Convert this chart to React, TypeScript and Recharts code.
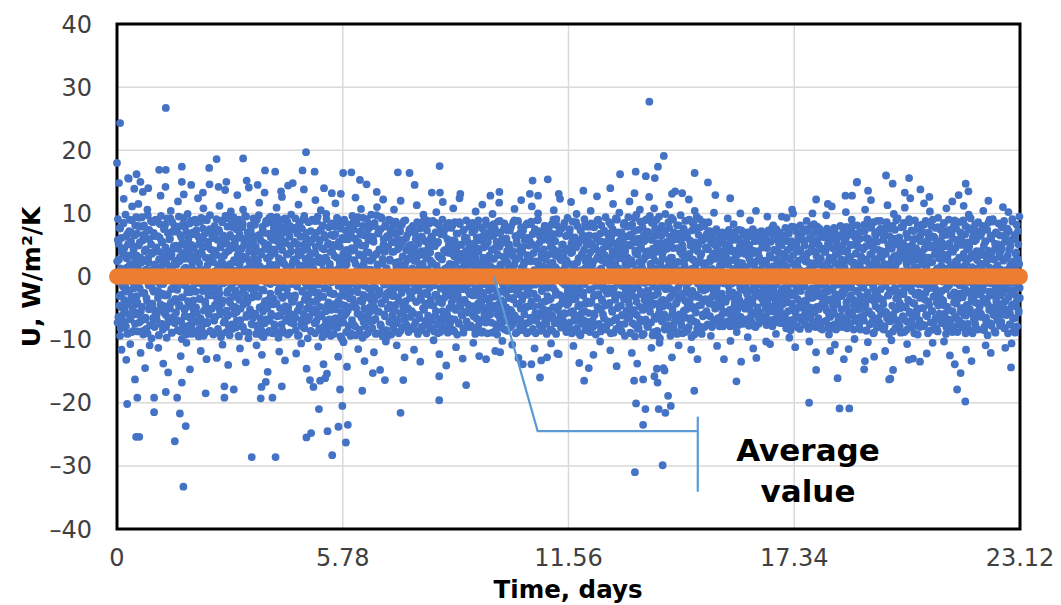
import React from "react";
import {
  ScatterChart,
  Scatter,
  XAxis,
  YAxis,
  CartesianGrid,
  ReferenceArea,
} from "recharts";

const timeSpan = 23.12;
const xTicks = [0, 5.78, 11.56, 17.34, 23.12];
const yTicks = [-40, -30, -20, -10, 0, 10, 20, 30, 40];
const averageU = 0;

const dayBlocks = [
  "2.4 -7.3 9.1 -0.8 5.2 14.8 -4.6 7.7 -9.4 1.3 -2.9 6.1 -11.6 -6.2 3.8 -8.1 0.2 8.4 12.3 -3.7 4.5 -5.5 -1.6 9.8 -7.9 -13.2 2.9 -0.1 6.7 -4.1 15.6 -9.0 3.3 7.2 -2.2 1.8 -10.7 -6.8 5.6 -3.2 8.9 11.1 -5.0 0.7 -8.6 4.1 -1.1 13.9 6.5 -7.5 2.0 -4.4 9.4 -6.0",
  "-3.1 6.8 -8.7 1.5 11.5 4.9 -5.9 9.3 -1.9 3.0 -12.1 -7.0 7.9 -0.4 -4.8 5.7 13.4 -9.2 2.6 8.1 -2.6 0.9 -14.5 -6.5 4.3 -8.3 6.0 -3.9 10.6 9.7 -0.9 2.2 -5.2 7.4 -10.9 -7.7 1.0 -1.4 5.1 -9.8 3.6 -4.3 8.6 -6.6 0.5 -2.4 6.4 -8.0 3.9 -5.6 9.0 -0.2",
  "4.6 -6.9 0.3 8.7 -3.4 -11.3 -9.3 2.7 6.2 -1.2 -5.3 12.8 9.6 -7.6 1.6 -2.7 5.4 -8.4 -13.8 3.2 7.5 -4.7 -0.6 8.2 14.2 -6.1 2.1 -9.7 4.0 -3.0 6.9 -15.2 -0.3 -7.2 5.9 1.2 -5.1 9.2 10.4 -2.0 3.5 -8.9 7.1 -4.0 0.8 -6.4 4.8 -1.5 8.0 -7.4 2.5 -3.6",
  "-5.7 1.9 7.3 -2.1 -8.5 11.9 4.4 9.5 -0.7 -4.5 3.1 6.6 -12.6 -7.1 0.0 -9.9 5.3 -3.3 8.3 -1.3 13.0 2.8 -6.3 7.8 -5.0 1.4 -8.2 -10.5 4.2 -2.5 9.9 -0.5 6.0 -7.8 3.4 -4.2 -14.7 0.6 8.8 -6.7 5.0 -9.1 2.3 -1.8 7.0 -3.8 -5.8 4.7 -0.2 9.0 -8.8",
  "0.9 -4.9 8.5 -7.2 3.7 -1.0 12.4 6.3 -9.5 2.1 -3.5 5.5 -6.6 -11.8 9.3 -0.3 -8.0 4.6 -2.3 7.6 10.8 -5.4 1.1 -9.0 6.8 -4.0 3.0 -1.7 -13.1 8.9 -7.4 0.4 5.1 -3.0 -6.0 2.6 14.6 9.7 -8.6 4.3 -1.4 7.2 -5.1 0.1 -2.8 6.1 -9.2 3.9 -7.0 8.0 -4.5",
  "-6.4 3.6 -0.6 9.1 -12.9 -3.6 5.8 -8.3 1.7 -2.0 7.1 11.2 -5.3 0.5 4.8 -9.6 2.4 -4.3 8.6 -10.8 -1.1 6.5 -7.3 3.3 -0.2 -5.7 13.7 9.6 1.4 -8.8 5.2 -2.6 7.9 -6.2 -14.0 0.0 4.1 -3.8 -9.3 6.6 2.0 10.3 -1.6 8.3 -7.6 4.5 -4.8 1.0 9.4 -5.9 -0.9 6.0",
  "5.3 -2.2 -8.1 0.8 7.5 -5.6 12.9 3.4 -0.1 -9.4 9.0 -3.7 1.9 -11.4 -6.9 6.1 -1.3 4.4 -7.9 2.7 8.4 10.6 -4.4 -0.5 5.9 -8.7 3.1 -2.9 -13.6 9.5 -6.1 1.2 -4.1 7.0 -0.8 -9.8 14.1 4.9 2.2 -5.2 8.1 -1.9 6.7 -7.5 0.3 -3.3 5.4 -6.5 9.2 -2.5 3.8",
  "-1.4 8.2 -6.0 4.0 -9.1 -10.9 2.5 6.4 -3.2 0.6 -7.7 9.7 11.7 -4.9 1.6 -0.4 5.7 -8.4 3.5 -12.4 -2.1 7.3 -5.5 -9.6 0.2 6.9 13.3 -3.9 4.6 -6.8 8.8 -1.0 2.9 -8.9 -15.1 5.0 -4.6 0.9 9.3 -7.0 3.2 -2.7 6.2 -5.9 -0.7 8.5 1.8 -9.0 4.3 -3.5 7.7",
  "3.9 -8.3 7.0 -0.9 -4.2 1.5 10.9 9.4 -6.3 5.6 -2.4 -9.7 2.9 -11.9 8.0 -5.0 0.4 -1.7 6.6 -7.6 12.6 4.2 -3.4 9.0 -0.1 -8.9 2.0 7.8 -13.3 -4.7 5.3 -6.7 1.1 -2.0 8.7 -9.2 14.4 3.6 -5.8 0.0 6.3 -3.1 4.9 -7.3 9.8 1.7 -1.2 -6.0 7.4 -4.0 2.6",
  "-7.5 0.7 5.5 -3.0 9.2 -8.5 -12.2 2.2 -1.6 6.8 -5.4 4.0 11.4 -9.3 1.3 8.3 -4.5 -0.6 3.7 -10.6 -6.9 7.6 -2.3 0.1 -8.0 5.0 13.8 9.6 -3.7 -1.0 2.8 -7.1 6.0 -14.6 -5.1 4.4 -9.8 1.9 8.6 -2.8 -6.4 3.2 0.5 -4.0 7.2 -8.7 5.8 -1.9 9.0 -5.7 2.4",
  "1.2 -5.2 8.8 -2.5 -9.0 12.1 4.7 6.9 -7.0 0.3 -3.6 9.5 -11.1 -1.3 3.0 -8.2 5.6 -4.8 7.4 10.5 -0.4 -6.1 2.1 -9.6 8.1 -3.2 -13.9 4.3 -7.9 0.9 6.2 -1.8 -5.5 9.9 2.7 -15.4 -8.6 -0.2 5.1 -4.1 7.8 -6.8 1.6 -2.6 3.9 -9.4 6.6 -0.8 -7.3 8.4 -4.4",
  "-2.8 6.4 -9.1 3.3 -0.5 7.9 11.6 -6.6 1.0 -4.3 9.3 -8.1 4.8 -12.7 -1.5 5.5 -7.4 2.3 -3.1 8.7 13.1 -5.7 0.6 -9.9 6.1 -2.1 3.6 -10.4 -6.3 9.0 -0.9 -4.6 1.8 7.3 -8.8 4.2 -14.3 -1.1 -5.4 5.9 -7.8 2.9 8.2 -3.5 0.2 -9.4 6.7 -2.4 4.5 -6.9 9.6",
  "4.1 -0.7 -7.6 8.9 2.6 -4.4 6.0 12.5 -9.3 0.8 -2.0 5.2 -5.9 9.4 -11.5 -1.4 3.4 -8.4 7.1 -3.8 1.5 10.7 -6.5 4.9 -0.1 -9.7 8.0 -2.9 2.0 -5.1 -13.4 6.5 -7.9 0.4 3.8 -3.3 9.1 -6.2 1.1 -8.9 5.7 -1.9 7.7 -4.9 -0.3 2.5 -7.1 9.8 -3.9 6.3",
  "-8.2 2.9 5.9 -1.7 -12.0 -4.9 8.5 0.6 -6.7 3.5 -3.0 9.7 11.0 -9.0 1.7 -0.6 6.8 -5.6 4.3 -2.3 -14.8 7.5 -7.8 0.1 -4.1 9.2 2.1 -9.5 12.2 5.1 -1.2 -6.0 3.9 8.1 -3.6 -10.3 -8.5 1.3 6.4 -2.6 -5.0 4.7 -0.2 9.0 -7.2 2.7 -4.5 7.0 -1.0 -9.2 5.5",
  "0.5 -6.1 7.8 -2.7 3.9 10.6 -8.6 5.4 -0.4 -4.5 8.7 1.6 -10.9 -7.4 6.0 -3.3 2.3 -9.0 4.6 -1.6 7.1 -5.8 12.0 0.0 -2.1 8.2 -8.1 3.1 -4.8 5.8 -0.9 -6.9 -12.8 1.9 8.9 -3.9 4.2 -7.7 -1.2 6.6 -5.2 2.8 -8.8 0.9 7.4 -2.5 -6.4 5.0 -0.7 3.5",
  "-3.4 4.4 -8.3 8.0 -0.2 -5.9 -11.6 2.5 6.9 -1.8 -7.2 3.7 -4.0 11.3 8.6 0.7 -9.1 5.2 -2.2 1.4 -6.6 7.6 -13.5 -0.8 -3.7 4.0 -8.5 6.2 2.0 -5.0 9.8 8.9 -1.3 -7.7 0.3 5.6 -4.3 3.0 -9.0 7.3 -2.8 1.1 -6.2 4.7 -0.5 8.4 -8.0 2.6 -3.9 6.0",
  "6.3 -1.1 -7.0 2.2 8.8 -4.6 -10.1 0.0 -8.7 4.9 -2.9 7.0 -5.5 10.2 1.7 -0.6 5.3 -9.0 3.3 -3.5 8.1 -12.3 -6.7 0.8 -1.9 6.7 -7.9 2.9 -4.2 9.0 11.8 -0.3 -5.8 4.1 -8.2 1.2 7.5 -2.4 -6.3 -14.1 3.8 -1.4 5.9 -8.9 0.4 -3.0 8.5 -5.0 2.0 -7.4 4.6",
  "-0.9 7.7 -4.1 1.8 -8.4 5.7 10.8 -2.6 3.2 -6.8 8.6 0.2 -5.3 -11.2 4.5 -1.5 -9.2 6.8 -3.2 2.7 -7.5 0.9 12.4 8.3 -4.8 -0.1 5.0 -6.0 3.6 -2.0 -13.0 7.2 -8.9 1.5 -3.7 6.1 -5.6 -0.7 4.0 8.9 -7.1 2.3 -1.2 -4.4 5.4 -8.0 0.6 7.9 -2.8 3.4",
  "2.9 -7.8 5.0 -1.0 -4.7 8.5 0.7 -10.5 -6.3 3.6 -2.3 7.4 -9.1 10.3 1.5 -0.3 6.2 -5.4 4.4 -8.3 8.9 -3.1 -12.6 -1.7 2.1 -6.9 5.7 0.0 -4.0 7.8 11.4 -8.7 3.0 -2.6 6.6 -5.9 1.1 -0.8 4.8 -7.3 8.2 -3.6 2.5 -9.0 5.4 -1.3 -5.0 7.0 0.5 -4.4",
  "-6.0 1.6 8.0 -3.3 4.2 -8.9 9.9 -0.2 6.5 -5.1 2.8 -1.9 7.6 -11.8 -7.6 0.9 5.5 -2.9 -9.2 3.5 8.7 -4.4 -0.6 11.7 4.7 -6.6 1.9 7.0 -3.8 -8.1 5.9 -10.2 0.3 -1.4 3.1 -5.7 8.4 -7.0 2.3 -0.9 6.0 -4.9 -2.2 4.0 -8.6 7.3 1.2 -3.4 5.1 -6.4",
  "4.5 -2.0 -8.0 7.9 0.6 -5.6 -10.8 3.3 -3.6 8.6 -7.2 1.8 10.7 -0.5 6.4 -9.0 2.6 -4.3 5.2 -1.2 -6.7 8.8 -12.9 0.1 -2.8 4.1 -7.9 6.9 -5.1 12.1 1.4 -0.2 3.9 -8.5 7.3 -3.0 2.2 -6.0 5.8 -1.6 -4.8 0.8 8.2 -7.4 3.4 -2.4 6.1 -8.8 -0.8 4.9",
  "-1.6 5.6 -7.1 2.4 8.3 -4.0 11.1 -0.7 6.7 -8.6 3.7 -2.7 1.0 -11.4 7.5 -5.8 -9.0 4.6 0.4 -3.4 8.9 -6.4 10.0 2.0 -1.1 5.3 -7.7 6.3 -4.6 0.0 -13.3 3.0 -2.1 -8.3 7.1 1.6 -5.2 4.3 -0.4 8.0 -6.9 2.7 -3.9 5.9 -9.1 0.7 -1.8 7.8 -5.5 3.5",
  "7.2 -3.7 0.3 -8.4 4.7 -10.6 -1.4 6.0 -6.2 2.2 -4.9 9.0 10.5 -0.6 -7.4 3.4 5.6 -2.4 -9.1 1.2 8.1 -12.2 -5.3 -0.1 4.0 -6.8 6.8 -2.9 12.3 2.8 -8.0 0.8 7.6 -4.2 -1.0 5.1 -7.0 3.1 -3.2 8.5 -5.9 1.7 -0.9 6.4 -8.8 2.5 -4.5 9.3 -2.0 4.4",
  "-4.1 2.0 7.0 -7.3 0.7 -2.5 11.8 5.3 -9.0 3.9 8.7 -5.5 -11.0 -0.4 1.5 -6.5 6.2 -1.8 -3.5 4.6 9.9 -8.2 8.0 0.0 -4.7 2.9 -7.0 -13.7 5.7 -2.2 -9.3 7.4 1.0 -5.8 3.6 -0.8 6.5 -3.0 -6.9 4.2 9.1 -1.2 -8.5 2.4 -4.3 5.0 -0.3 7.9 -7.6 1.8",
  "1.4 -5.8 6.5 -2.1 -8.8 3.8 10.4 8.4 -4.0 -0.5 5.0 -7.0 2.3 -12.4 -3.1 7.8 -6.1 0.2 4.6 -9.2 -1.4 6.0 12.7 -4.8 3.1 9.0 -2.8 -7.5 1.0 5.6 -10.3 -0.9 -5.2 8.1 2.6 -3.8 -8.1 4.3 -1.6 7.1 -6.6 0.6 3.4 -4.4 9.4 -2.3 -7.8 5.4 -0.1 6.8",
  "-7.1 4.8 -0.6 8.6 -4.2 1.7 -11.7 -9.0 6.1 -2.6 3.2 -5.6 7.5 11.5 0.5 -1.9 -6.9 5.2 -3.4 2.1 9.2 -8.3 -14.2 -0.9 4.4 -5.0 7.0 1.3 -2.9 10.1 -7.6 3.6 6.7 -4.6 0.0 -8.7 5.8 -1.5 2.8 -6.2 8.2 -3.6 0.9 -9.4 4.0 -2.0 6.3 -5.4 1.9 7.9",
  "3.0 -6.6 9.4 -1.3 -4.4 11.9 6.6 -8.9 0.6 5.1 -2.9 -12.1 8.2 -7.4 2.0 -0.2 -5.7 7.2 13.2 -9.5 4.1 -3.3 1.1 9.8 -6.1 -13.8 3.5 -1.7 6.0 -8.2 0.3 -4.8 10.6 8.7 -2.4 4.7 -7.1 1.6 -0.6 7.8 -5.3 2.6 -9.1 5.6 -3.7 -1.0 8.9 -6.8 3.9 -4.0 9.1",
  "-2.2 7.1 -8.0 4.0 0.9 12.6 -5.0 9.6 -3.6 1.9 -7.3 -11.3 5.8 -0.7 -9.3 3.3 -1.6 8.4 10.8 -6.4 2.5 6.5 -4.3 -0.3 9.0 -14.6 -8.6 4.8 -2.7 0.5 -5.9 7.5 -10.5 -9.8 2.1 5.3 -3.9 -1.1 8.0 -7.0 3.7 -4.7 0.0 6.9 -6.0 1.3 -8.4 9.9 -2.0 4.4 -0.9",
  "5.5 -0.8 -7.7 2.6 8.6 -4.6 11.4 -1.9 6.3 -9.4 3.0 -3.1 9.3 -12.8 -5.9 0.4 4.5 -8.1 7.0 -2.5 1.5 13.5 -6.7 5.9 -0.1 -4.1 8.1 -8.8 2.3 -3.5 -10.9 6.8 -1.2 -6.2 3.9 9.7 -7.2 0.8 -2.8 5.0 -9.0 4.3 -0.5 7.6 -5.4 1.8 -3.8 8.8 -6.5 2.9",
  "-5.2 1.0 6.2 -8.5 3.3 -1.0 12.2 9.0 -3.9 -6.8 4.9 0.2 -11.6 -9.6 7.3 -2.3 2.7 -4.8 8.3 -7.1 -0.6 10.4 5.4 1.6 -5.7 -2.9 9.5 -8.3 -13.1 4.0 -0.2 6.6 -3.3 -7.9 2.3 7.8 -1.6 -4.5 3.6 -9.1 5.7 0.6 -6.0 8.6 -2.2 1.4 -8.0 6.0 -3.6 4.6",
  "2.1 -5.5 6.8 -1.4 -7.6 4.3 8.6 0.1 -3.6 7.2 -6.3 2.9 -9.4 -0.8 5.4 -8.0 1.2 -4.4 6.1 -2.3 10.1 3.7 -7.1 -0.3 4.9 -5.0 7.5 -1.8 -11.0 0.8 -6.6 3.2 -3.1 5.9 -7.9 1.7 -0.6 6.5 -4.8 2.5 -2.7 7.0 -5.9 0.4 4.0 -7.4 -1.1 5.1 -3.8 2.0",
  "-4.0 3.0 -7.3 6.3 -0.5 9.2 1.9 -5.8 7.4 -2.4 4.6 -7.9 -10.2 0.2 5.7 -3.2 -1.1 6.9 -6.1 2.6 8.3 -0.1 -4.7 4.1 -7.0 7.1 1.0 -2.9 -8.8 -5.4 3.5 -0.9 6.0 -7.7 2.2 -3.7 4.8 -1.6 -6.4 0.7 7.3 -4.3 1.4 -2.0 5.3 -7.5 3.9 -0.4 6.6 -5.1",
  "5.2 -1.7 -6.8 1.3 7.0 -3.9 -9.6 -0.2 4.4 -7.8 2.8 -5.2 8.9 6.4 -2.2 0.5 -7.2 3.6 -4.2 7.5 -11.4 -0.9 1.8 -6.0 5.6 -3.0 -8.0 10.4 2.4 6.8 -1.3 -4.9 0.0 4.0 -7.5 3.1 -2.6 6.2 -5.7 1.1 -0.7 7.2 -3.5 -6.5 2.0 4.7 -1.9 -7.1 5.0 0.8",
  "-0.6 6.1 -5.0 2.3 -7.7 4.5 9.5 -2.8 0.6 7.3 -4.6 -1.5 3.4 -10.7 -6.9 5.5 -0.1 -3.3 7.7 -7.9 1.6 8.1 -2.1 4.2 -5.6 6.7 0.9 -4.0 -9.1 -7.1 2.7 -1.0 5.8 -6.2 3.8 -3.6 0.3 7.0 -5.3 1.9 -2.5 -7.4 4.9 -0.4 6.4 -4.4 2.1 -6.6 3.0 -1.8",
  "3.4 -6.0 7.7 -2.0 -8.2 9.3 1.1 5.6 -4.1 0.0 -6.9 6.8 -9.7 -1.2 2.7 -8.5 4.6 -3.0 7.9 10.6 -5.3 -0.5 2.0 -7.4 5.2 -2.6 0.6 -11.2 -5.8 7.2 -1.7 3.9 -8.0 -3.6 1.5 6.3 -6.5 -0.8 4.2 -4.6 8.1 -2.3 0.9 -7.0 5.9 -1.4 -5.0 3.0 7.1 -3.9",
  "-1.0 4.9 -7.6 2.4 -4.3 7.5 8.8 0.3 -5.7 3.7 -2.7 -8.3 6.0 -10.3 1.2 -0.4 -6.2 4.0 8.0 -3.4 -1.9 10.0 5.3 -7.9 2.1 -5.0 6.9 0.7 -2.2 -8.0 -12.0 3.3 -4.8 7.9 -0.9 1.9 -6.6 5.0 -3.1 -1.4 7.0 -7.2 2.9 0.1 -4.5 6.4 -8.4 4.4 -2.5 1.4",
  "6.2 -3.3 0.5 -7.2 3.9 -1.6 9.7 -5.4 7.6 -0.2 2.3 -8.1 4.8 -9.2 -3.8 1.3 -6.4 5.7 -2.1 -7.8 11.1 0.9 6.9 -4.6 2.8 -0.7 -5.9 7.3 -10.8 -2.9 3.5 -8.4 0.2 5.3 -4.1 -1.3 6.5 -6.8 1.8 -3.2 4.4 -7.5 8.0 -0.6 2.0 -5.2 4.1 -2.4 -8.0 7.0",
  "-2.7 1.8 -6.8 5.5 -0.3 7.8 10.2 -4.9 2.6 -8.2 4.1 -1.1 -5.9 -11.5 6.6 0.4 -3.5 3.1 -7.4 7.4 -1.8 9.0 0.9 -6.1 5.0 -3.7 -8.4 2.2 -9.9 6.2 -0.6 -4.4 3.6 -7.0 1.0 8.1 -2.4 -5.2 4.7 -0.9 -7.8 6.0 1.6 -3.1 -6.4 3.2 -1.5 7.2 -4.7 0.2",
  "4.3 -1.8 -7.0 8.2 1.0 10.6 -4.5 6.1 -8.6 2.7 -2.9 9.0 -10.4 -5.7 0.3 -0.9 5.0 -7.6 3.5 -3.6 12.1 7.7 -6.1 1.6 -1.2 4.6 -9.0 8.6 -12.7 -4.0 0.0 -2.4 6.5 -6.8 2.2 -8.1 5.5 -0.5 -3.2 7.2 -5.1 3.0 -7.3 1.3 8.8 -2.0 -5.9 4.0 -0.2 6.8",
  "-3.8 5.8 -8.4 2.0 7.1 -1.5 -11.8 -5.6 3.6 -0.1 8.6 -6.6 11.3 1.1 -3.0 4.9 -9.1 6.4 -2.2 0.6 -7.1 5.4 -10.1 2.8 -4.6 8.0 -0.8 -6.0 9.9 3.2 -1.9 7.4 -8.2 1.7 -3.5 5.1 -5.2 0.2 9.2 -7.5 2.4 -2.6 6.2 -4.2 -0.6 4.2 -8.9 7.8 -1.2 3.9",
  "0.8 -6.3 5.3 -2.8 8.5 -8.8 10.9 3.3 -0.4 -4.9 6.8 1.9 -10.7 -7.2 4.7 -1.7 -3.9 9.1 -5.8 2.4 12.4 0.0 -8.0 7.3 -2.3 3.8 -6.5 -13.0 5.9 -0.7 -4.3 1.5 8.9 -7.8 2.8 -1.0 6.0 -5.3 4.1 -9.2 0.5 -2.5 7.6 -6.9 3.1 -3.4 5.6 -0.2 -7.5 8.2",
  "-5.0 2.7 -1.3 7.0 -7.9 11.6 4.4 0.2 -3.7 8.8 -6.1 1.4 -12.2 -2.0 5.7 -9.0 3.0 6.6 -4.5 -0.6 10.3 2.2 -7.3 8.1 -1.8 4.9 -5.5 -10.5 0.7 -8.4 6.3 -3.1 3.5 -0.9 -6.6 7.7 1.0 -4.1 5.2 -2.6 -8.7 9.3 -0.2 2.9 -5.9 4.2 -3.3 7.4 -7.0 1.7",
  "3.7 -7.4 6.4 -0.8 -3.8 8.3 -10.3 1.3 -5.9 4.8 -2.0 -9.1 10.8 7.2 0.4 -4.8 2.6 -6.8 9.0 -1.4 5.3 -12.5 -8.3 1.8 -3.0 6.8 -0.1 11.9 -5.5 3.9 -7.9 8.0 -2.5 0.9 -6.3 4.5 -1.0 7.6 -4.3 2.3 -8.8 5.8 -3.5 -0.6 8.6 -7.0 1.5 -2.7 6.0 -5.0",
  "-0.5 5.0 -8.1 3.0 -3.3 8.9 11.2 -6.0 1.6 -1.9 6.7 -9.0 -11.6 2.4 -4.5 4.3 0.3 -7.5 7.7 9.8 -2.6 2.9 -5.2 -0.9 9.2 -8.6 -13.4 3.6 -4.0 6.1 -1.2 0.8 -6.7 5.6 -3.0 8.2 -7.7 1.2 -2.1 4.0 -5.6 7.1 0.0 -8.4 3.3 -1.5 6.4 -4.8 2.0 -6.3",
  "6.6 -2.4 -6.4 1.7 8.0 -4.1 10.4 3.4 -8.5 0.1 -1.1 5.5 -10.9 -7.0 2.2 -3.6 7.4 -9.3 4.1 12.0 -0.4 -5.3 9.0 1.1 -2.9 -12.1 6.0 -7.8 3.8 -0.7 -4.9 8.7 -6.1 2.7 0.5 -2.2 5.2 -8.9 7.0 -3.9 1.4 -6.9 4.6 -1.6 -5.7 8.4 -0.2 3.1 -7.3 6.5",
  "-3.0 4.1 -7.2 7.8 0.6 -5.0 11.0 2.5 -1.7 8.8 -8.2 5.5 -11.3 -3.9 1.0 -6.1 6.9 -0.4 3.3 -9.0 10.2 7.2 -2.2 0.2 -5.8 4.8 -7.6 2.0 -10.6 -1.0 9.1 -4.4 5.9 -8.7 1.5 -2.8 6.6 -6.6 3.6 -0.8 -4.7 8.2 -7.9 2.8 -1.3 5.1 -5.4 0.7 9.5 -3.4",
];

// more readings inside the dense band, same half-day blocks
const dayBlocksCore = [
  "-0.3 5.8 -6.4 2.7 -3.1 7.6 -8.2 0.9 4.2 -5.0 -1.6 8.5 -7.1 3.5 -2.4 6.3 -4.5 1.4 -9.1 5.1 -0.7 -6.0 9.0 2.0 -3.8 7.0 -8.8 0.2 4.8 -1.9 -5.6 3.0 8.1 -4.0 1.7",
  "3.3 -4.1 8.0 -1.0 -7.3 5.4 0.4 -5.5 2.2 9.4 -2.6 -8.6 6.6 -0.1 4.0 -6.8 1.1 -3.4 7.2 -9.0 2.9 -1.4 5.9 -4.8 0.6 8.8 -7.7 3.8 -2.0 -5.1 6.9 -0.8 1.9 -6.1 4.5",
  "-6.2 1.0 6.4 -2.3 -9.3 3.9 8.3 -4.4 0.0 5.6 -7.5 2.5 -1.2 -5.7 7.7 -3.0 4.6 -8.0 0.7 9.2 -2.8 -6.6 3.1 -0.5 6.0 -4.2 1.6 -8.9 8.6 -1.8 4.4 -6.9 2.1 -3.6 7.1",
  "4.9 -2.0 -6.9 0.5 7.9 -4.7 2.4 -8.7 -0.9 6.2 -3.3 3.7 -7.8 9.3 1.2 -5.3 5.0 -1.5 -9.2 7.0 0.1 -3.9 2.8 -6.4 8.4 -2.5 4.3 -8.0 1.5 -4.9 6.7 -0.4 -7.0 3.2 -1.1",
  "-2.4 7.3 -5.8 2.9 -0.6 -8.4 5.2 1.0 -3.6 8.7 -6.9 3.6 -1.3 6.0 -9.4 0.4 4.7 -4.3 9.1 -2.1 -7.2 1.8 5.5 -5.1 -0.2 7.5 -8.7 3.0 -3.0 6.5 -1.7 2.3 -6.5 4.1 0.8",
  "6.8 -0.9 -4.6 3.4 -8.8 1.5 7.4 -2.7 -6.0 4.6 0.3 -9.1 8.9 -3.8 2.0 -1.0 5.5 -7.0 -0.3 3.8 -5.4 9.2 -2.3 1.0 -7.9 6.3 -4.1 0.6 -1.7 4.9 -8.3 7.8 -3.2 2.6 -5.8",
  "-4.8 2.3 8.6 -7.0 0.0 4.4 -2.8 -9.5 6.7 1.3 -5.1 3.3 -0.6 7.8 -8.0 -2.0 5.0 -4.0 9.6 0.8 -6.4 2.9 -1.6 6.1 -8.9 4.0 -3.4 0.4 7.3 -5.7 1.9 -7.6 5.6 -1.1 3.0",
  "1.6 -5.9 4.7 -1.8 9.0 -8.1 2.6 -3.0 6.6 -0.4 -6.6 3.9 -9.3 0.9 7.9 -4.6 -2.2 5.3 -7.4 1.2 8.4 -0.8 -5.0 4.3 -3.7 6.8 -8.6 2.0 -1.2 9.5 -6.2 0.3 3.6 -4.4 5.8",
  "-7.6 3.8 -0.2 6.0 -4.3 1.9 -9.0 8.3 -2.0 4.8 -6.2 0.6 -3.1 7.1 -8.4 2.5 5.6 -1.4 -5.5 9.2 0.0 -7.0 3.5 -2.9 6.9 -4.9 1.3 -8.9 8.0 -0.7 4.0 -3.8 -6.5 2.2 7.5",
  "2.7 -3.5 7.7 -6.5 0.4 -1.3 5.1 -9.4 3.3 8.2 -4.8 -0.5 6.3 -7.7 1.7 -2.4 9.0 -5.9 4.2 -8.2 0.8 -3.3 6.9 -1.6 2.4 -6.9 8.7 -4.2 -0.1 5.4 -8.6 3.7 -2.1 1.3 -5.2",
  "-1.5 6.1 -7.4 3.7 -4.0 0.1 8.8 -5.9 2.3 -2.6 5.8 -8.5 -0.3 7.4 -6.3 4.5 -3.2 1.0 -9.3 6.6 -1.9 3.0 -7.0 9.1 -4.6 0.6 5.3 -2.1 -8.0 2.0 8.0 -5.3 -0.9 4.0 -6.8",
  "5.0 -2.7 0.9 -8.0 6.7 -5.2 3.0 -0.7 9.1 -3.9 -6.8 1.5 4.7 -9.5 7.6 -1.4 -4.5 2.7 -7.3 5.9 -0.1 8.6 -3.1 -5.9 1.9 6.4 -8.6 3.9 -2.0 0.3 7.2 -4.8 -9.0 4.2 -1.0",
  "-3.6 7.5 -1.1 4.3 -7.9 2.0 -5.0 8.4 0.5 -2.5 5.4 -8.9 3.5 -0.8 6.6 -6.1 1.4 -4.0 9.3 -7.2 2.8 -1.5 4.9 -9.2 0.0 7.0 -3.3 -6.4 3.8 -0.4 8.3 -5.6 1.1 -2.8 6.0",
  "0.6 -7.0 5.5 -3.8 8.0 -1.8 -9.1 3.6 -5.5 1.9 6.9 -2.9 -0.5 4.1 -7.6 9.4 -4.3 0.2 2.8 -8.5 5.9 -1.3 -6.3 7.9 -3.0 1.3 -9.5 4.6 -0.9 6.2 -5.0 2.5 -2.1 8.8 -6.9",
  "3.9 -3.1 -8.0 6.8 0.1 -5.4 2.2 -1.7 8.3 -6.8 4.3 -0.4 -3.9 1.4 7.3 -8.6 5.2 -2.6 -0.1 3.2 -6.0 8.8 -4.4 1.0 -7.5 6.1 -1.9 2.6 -5.0 4.8 -8.3 0.5 -3.3 7.6 -1.0",
  "-5.5 1.3 7.1 -2.3 -7.8 4.6 -0.6 5.9 -4.0 2.4 -8.7 8.5 -1.4 -6.1 3.4 0.2 -3.2 6.3 -8.0 1.8 -0.9 7.8 -5.3 4.0 -2.6 -7.0 2.9 8.9 -4.5 0.7 5.2 -6.7 -1.8 3.8 -3.7",
  "2.0 -4.5 6.0 -8.3 0.7 -1.4 4.8 -6.2 8.5 -2.9 1.1 -7.6 5.5 -0.3 -4.0 3.0 -8.8 7.1 -1.8 2.7 -5.5 0.2 6.6 -3.4 -7.0 4.2 -0.9 8.0 -6.0 1.5 -2.3 5.0 -8.0 3.7 -4.9",
  "-6.7 4.0 -1.6 8.1 -3.6 0.8 -8.7 5.6 2.0 -5.0 6.8 -0.2 -2.5 3.6 -7.3 8.6 -4.2 1.2 -1.0 5.1 -6.2 2.4 -8.2 7.4 -0.6 -3.9 3.2 -5.7 6.1 1.7 -2.2 -7.8 4.4 0.0 -4.8",
  "4.1 -0.9 -5.9 7.0 -3.0 1.8 -8.2 5.3 -1.9 2.9 -6.6 8.4 0.3 -4.3 3.9 -7.5 6.2 -0.6 -2.8 1.0 -8.9 7.6 -4.9 4.6 -1.2 -6.4 2.2 8.9 -3.5 0.6 5.7 -7.1 -2.2 3.3 -5.3",
  "-2.1 6.4 -7.3 2.8 0.0 -4.6 8.3 -1.5 4.5 -8.6 1.2 -3.2 6.9 -6.0 3.4 -0.3 -5.3 8.8 -2.4 1.6 -7.8 5.3 -1.0 -4.1 7.5 0.5 -8.4 3.1 -2.7 6.0 -5.7 2.2 -0.7 4.8 -6.9",
  "7.3 -5.3 1.5 -1.2 -7.7 4.0 -3.4 0.3 8.9 -6.2 2.6 -2.2 5.6 -8.8 -0.5 6.5 -4.4 3.1 -1.7 -6.9 7.8 0.9 -3.7 4.7 -8.1 1.9 -0.2 6.1 -5.0 2.4 -9.0 8.4 -2.9 0.6 -4.7",
  "-0.4 3.2 -6.5 8.7 -2.7 5.1 -8.3 0.8 -4.7 6.9 -1.3 2.4 -7.0 4.4 -3.5 9.0 -5.8 1.1 -0.9 7.2 -8.6 3.5 -2.3 5.8 -6.2 0.2 -4.0 8.0 -1.6 2.9 -7.5 6.3 -3.1 1.4 -5.4",
  "5.7 -6.6 2.0 -3.5 8.2 -0.8 -8.6 4.4 -1.9 6.7 -5.0 1.5 -2.9 9.1 -7.2 3.2 0.3 -4.7 7.1 -0.2 -6.1 2.6 -8.1 5.0 -3.4 1.0 7.9 -5.8 -1.3 4.1 -7.8 0.6 6.5 -2.4 -4.2",
  "-3.0 0.5 7.5 -5.7 3.7 -1.7 -8.4 6.0 1.9 -3.6 4.9 -7.0 -0.4 8.6 -2.8 2.2 -6.2 5.2 -9.0 0.9 -4.5 7.3 -1.1 3.4 -7.5 5.9 -2.5 0.0 -5.5 8.3 1.4 -3.9 6.3 -8.3 2.8",
  "3.0 -7.2 5.4 -0.4 -4.2 7.9 -2.0 1.8 -8.0 4.3 -5.9 0.7 6.4 -3.0 -7.7 2.8 8.9 -1.5 -5.2 3.9 -0.6 6.8 -8.7 1.3 -3.6 5.5 -6.0 -1.9 7.3 0.1 -4.6 2.2 -8.4 4.9 -2.7",
  "-4.4 5.9 -1.9 2.6 -7.3 8.2 0.3 -5.3 4.0 -2.3 -8.9 6.9 1.6 -3.7 3.3 -6.6 9.0 -0.8 -4.8 0.9 5.6 -8.2 2.9 -1.4 7.0 -6.1 4.6 -3.1 -0.2 8.5 -7.5 1.9 -2.6 5.0 -5.7",
  "1.8 -3.8 8.0 -6.4 4.9 -0.6 -9.0 2.6 6.2 -2.1 -5.3 0.7 9.3 -7.7 3.7 -1.5 -4.0 5.4 -8.3 7.4 -0.1 2.3 -6.8 4.4 -2.8 8.7 -9.3 1.1 -4.9 6.6 -1.0 3.1 -7.2 5.9 -3.3",
  "-7.9 3.4 -2.5 6.9 0.5 -5.6 2.0 -1.0 8.5 -4.5 4.4 -8.8 1.3 -3.0 7.6 -6.7 0.0 5.3 -2.0 -9.4 3.9 9.5 -5.0 1.7 -1.6 6.4 -7.1 2.9 -3.7 4.8 -0.5 -8.2 7.2 -4.0 0.9",
  "4.4 -1.2 -6.5 1.6 7.7 -3.4 -8.5 5.3 -0.2 3.0 -5.2 9.0 -2.2 -7.3 2.2 6.6 -4.3 0.5 -9.1 4.5 -1.8 8.1 -6.0 1.0 -3.1 5.8 -7.8 3.5 -0.8 7.1 -5.5 2.7 -2.6 -8.8 6.2",
  "-1.8 6.9 -4.4 0.4 -8.0 3.6 5.7 -2.8 -6.6 1.2 8.6 -0.6 -5.1 4.3 -9.2 2.4 -3.2 7.5 -7.3 0.8 -1.1 5.0 -4.6 9.1 -8.6 3.3 -2.0 6.1 -0.3 -6.3 2.1 -3.9 8.0 -5.9 1.6",
  "-2.0 4.4 -6.1 1.1 -0.5 6.4 -4.3 2.4 -7.7 5.3 -1.6 -3.2 3.5 -6.9 7.1 0.3 -5.1 2.8 -2.6 -7.2 4.7 0.9 -4.0 6.0 -1.0 3.9 -6.4 1.6 -3.6 5.5 -7.9 0.0 2.2 -5.6 4.2",
  "3.3 -3.5 0.6 -7.1 5.1 -1.5 2.6 -5.3 6.9 -0.3 -6.6 4.0 -2.5 1.2 -7.8 6.2 -4.1 3.0 -0.9 -5.8 5.8 1.7 -3.0 7.4 -6.9 0.4 -1.9 4.5 -4.7 2.1 -7.4 6.6 -0.6 3.6 -2.2",
  "-5.0 1.5 6.0 -2.8 -7.4 3.3 -0.8 5.0 -4.5 2.0 -6.2 7.2 0.2 -3.6 4.1 -1.4 -7.9 6.3 -2.0 1.0 -5.5 3.8 -0.4 7.0 -6.6 2.6 -3.2 5.5 -1.1 -7.0 4.6 0.8 -4.2 6.7 -2.4",
  "2.5 -6.3 4.7 -0.9 -3.8 7.0 -5.6 1.3 -1.8 5.6 -7.6 3.0 -0.1 -4.8 6.6 -2.9 0.9 -6.8 4.2 -1.3 7.5 -5.1 2.3 -3.4 -7.3 5.1 -0.6 1.8 -4.0 6.0 -2.0 3.6 -6.0 0.5 -3.0",
  "-3.5 6.5 -7.5 1.6 -0.2 4.2 -5.5 7.4 -2.4 2.9 -8.1 0.4 5.6 -4.3 -1.1 3.4 -6.8 7.8 -3.0 1.0 -7.9 5.0 -0.7 -5.0 2.5 6.0 -2.2 -8.3 4.0 0.0 -4.6 6.9 -1.5 3.1 -6.2",
  "5.4 -1.6 -6.7 3.0 -3.7 0.9 7.2 -8.0 2.2 -0.5 -4.9 6.1 -2.1 4.6 -7.1 1.4 -3.3 8.3 -5.7 0.3 3.9 -1.9 -7.7 5.8 -0.9 2.6 -5.2 7.6 -2.7 -8.2 4.3 -0.3 1.8 -4.1 6.4",
  "-0.8 3.9 -4.8 7.1 -7.0 1.9 -2.4 5.2 -0.1 -6.0 3.0 -8.3 6.6 -3.6 0.6 4.5 -1.7 -5.4 7.7 -7.6 2.1 -2.8 5.9 0.1 -4.4 3.6 -8.0 1.2 -0.6 6.3 -6.3 2.7 -3.1 4.9 -1.3",
  "4.0 -7.3 1.4 -2.1 6.0 -4.1 0.0 7.8 -6.3 3.2 -1.0 -8.0 5.0 -3.0 2.3 -5.6 8.0 -0.8 -4.6 1.6 6.8 -7.0 3.7 -2.3 -0.4 5.7 -6.6 0.8 -3.8 7.1 -8.4 2.6 -1.5 4.5 -5.0",
  "-6.2 2.5 -1.0 7.3 -4.0 4.8 -8.5 0.7 -2.5 6.0 -5.5 1.9 8.4 -3.4 -0.3 3.6 -7.2 5.5 -1.7 -8.9 2.7 6.8 -4.7 0.1 -2.8 8.8 -6.6 4.2 -0.8 1.3 -5.2 7.6 -3.6 3.0 -7.8",
  "1.2 -4.4 6.5 -8.0 3.9 -1.3 -5.7 8.2 0.3 -3.0 5.1 -7.1 2.0 -0.5 7.6 -6.3 4.4 -2.4 -8.7 1.6 6.0 -4.9 0.8 -1.9 8.9 -6.9 3.4 -3.4 5.9 -0.2 -7.9 2.9 -5.0 4.7 -1.1",
  "-4.7 7.9 -2.3 0.5 -6.9 4.1 -0.7 2.3 -8.4 6.2 -3.7 1.0 8.6 -5.6 3.1 -1.6 -7.4 5.0 0.0 -4.2 7.2 -9.0 2.6 -2.9 4.5 -6.0 1.4 8.0 -1.2 -5.1 3.6 -8.0 6.5 -0.4 2.0",
  "3.5 -0.4 -5.0 8.2 -7.7 1.8 -2.6 5.2 -0.9 -6.3 3.0 -4.0 7.0 -8.6 0.6 4.6 -1.5 -5.4 2.3 9.0 -3.2 -7.3 6.1 0.2 -2.0 4.0 -8.2 1.3 7.8 -4.6 -0.6 5.6 -6.6 2.8 -3.6",
  "-2.3 5.3 -6.3 1.0 8.5 -4.6 2.8 -0.2 -8.0 6.6 -1.7 3.5 -5.3 0.5 7.4 -7.1 -3.0 4.3 -0.9 -8.8 6.0 1.7 -4.1 8.9 -2.6 2.4 -6.6 0.0 5.0 -3.5 -7.6 3.0 -1.4 7.0 -5.6",
  "6.1 -3.2 0.4 -7.5 3.6 -1.0 -4.9 8.0 -6.2 2.2 -2.3 5.4 -8.3 0.9 4.7 -0.6 -5.8 7.4 -3.6 1.5 -9.0 6.4 -1.8 3.1 -7.0 0.1 5.8 -4.2 2.6 -2.8 8.6 -6.0 1.1 -0.3 4.0",
  "-5.9 2.0 7.1 -1.9 -3.5 4.9 -8.0 0.6 5.6 -6.5 3.0 -0.5 -4.4 8.5 -2.4 1.4 -7.4 6.5 -1.1 2.8 -5.5 9.1 -3.0 0.3 -8.6 4.4 -2.0 6.8 -6.2 1.8 -0.8 5.1 -4.6 3.5 -7.8",
  "1.1 -6.0 4.5 -2.6 8.0 -4.2 0.3 -8.2 6.3 -1.6 2.9 -5.3 7.6 -0.1 -3.3 4.2 -7.6 1.7 5.7 -4.8 -1.0 8.7 -6.6 2.4 -2.2 6.0 -8.9 0.9 3.8 -3.8 -0.5 7.2 -5.7 2.0 -1.8",
];

// isolated readings far from the cloud: [day, U]
const outliers: [number, number][] = [
  [0.08, 24.3], [1.25, 26.7], [4.84, 19.7], [0.0, 18.0], [2.55, 18.6], [3.23, 18.7],
  [2.36, 17.2], [1.66, 17.4], [1.08, 16.9], [1.25, 16.9], [3.79, 16.8], [4.05, 16.6],
  [4.75, 16.8], [5.06, 16.6], [5.79, 16.4], [6.0, 16.5], [3.32, 15.2], [1.66, 15.0],
  [0.3, 15.5], [0.5, 16.2], [0.6, 15.0], [0.8, 14.0], [1.9, 14.5], [2.2, 13.3],
  [2.6, 14.2], [2.8, 15.0], [3.6, 14.5], [4.2, 13.5], [4.5, 14.8], [5.3, 14.0], [5.5, 13.2],
  [7.19, 16.5], [7.49, 16.4], [7.62, 14.5], [6.22, 15.3], [6.39, 14.6], [6.65, 13.4],
  [8.26, 17.5], [8.79, 13.1], [9.56, 12.8], [9.79, 13.4], [10.64, 15.2], [11.03, 15.4],
  [10.57, 13.1], [10.78, 12.8], [11.31, 13.1], [8.06, 13.3], [8.27, 13.3], [11.94, 13.6],
  [13.63, 27.7], [14.0, 19.1], [13.85, 17.4], [13.77, 15.6], [13.54, 15.9], [13.28, 16.6],
  [12.88, 16.2], [12.63, 14.0], [14.79, 16.4], [15.13, 14.9], [15.32, 12.9], [14.21, 13.1],
  [14.47, 13.2], [15.7, 12.4], [15.96, 10.0], [17.9, 12.2], [18.2, 11.5], [18.65, 12.8],
  [18.82, 12.8], [18.95, 15.0], [17.31, 10.0], [17.02, 9.5], [19.69, 16.0], [20.28, 15.6],
  [19.86, 14.7], [20.17, 13.3], [20.57, 13.8], [20.8, 12.6], [21.73, 14.7], [21.8, 13.5],
  [21.55, 12.9], [19.23, 13.6], [18.94, 14.9],
  [0.26, -20.2], [0.49, -25.4], [0.57, -25.4], [0.46, -16.3], [0.52, -19.2], [0.95, -19.2],
  [0.95, -21.5], [1.25, -18.3], [1.48, -26.1], [1.54, -19.2], [1.61, -21.7], [1.66, -16.8],
  [1.76, -23.7], [1.7, -33.3], [2.27, -18.5], [2.75, -17.4], [2.75, -19.2], [2.99, -17.9],
  [3.45, -28.6], [4.06, -28.6], [3.68, -19.3], [3.98, -19.2], [3.7, -17.5], [3.81, -16.7],
  [4.22, -17.4], [4.85, -25.5], [4.97, -24.8], [5.17, -21.0], [5.39, -24.5], [5.51, -28.3],
  [5.67, -23.8], [5.91, -23.5], [5.77, -20.5], [5.86, -26.3], [5.71, -17.9], [4.94, -16.4],
  [5.03, -17.5], [5.2, -16.5], [5.33, -16.1], [6.28, -18.1], [6.55, -15.3], [6.86, -16.4],
  [7.26, -21.6], [7.33, -16.4], [8.25, -19.6], [8.25, -15.8], [8.94, -17.2], [9.45, -13.1],
  [9.81, -12.0], [10.39, -13.9], [10.61, -13.9], [10.83, -16.0], [11.01, -12.8], [11.31, -12.3],
  [11.96, -16.5], [12.08, -14.5], [13.24, -16.5], [13.29, -20.1], [13.53, -21.0], [13.47, -23.5],
  [13.87, -21.0], [14.04, -21.6], [14.18, -20.5], [14.11, -18.9], [13.99, -14.5], [13.76, -15.8],
  [13.47, -16.3], [14.78, -18.1], [13.26, -31.0], [13.97, -29.9], [13.84, -16.8], [14.02, -14.9],
  [15.86, -16.6], [15.54, -13.1], [15.98, -13.5], [16.37, -12.9], [16.62, -10.3], [17.72, -20.0],
  [17.9, -14.8], [18.45, -16.1], [18.5, -20.9], [18.75, -20.9], [18.26, -11.8], [18.61, -13.1],
  [19.13, -14.7], [19.15, -13.4], [19.77, -16.3], [19.87, -14.8], [20.27, -13.2], [20.56, -13.5],
  [21.51, -17.9], [21.72, -19.8], [21.6, -15.3], [21.45, -13.9], [22.89, -14.4], [19.8, -16.2],
];

// "Average value" callout, in data units
const calloutPath = [
  { t: 9.65, u: averageU },
  { t: 10.77, u: -24.5 },
  { t: 14.87, u: -24.5 },
];
const calloutBar = [
  { t: 14.87, u: -22.2 },
  { t: 14.87, u: -34.1 },
];

const fromBlocks = (rows: string[]) => {
  const len = timeSpan / rows.length;
  return rows.flatMap((row, b) => {
    const vals = row.trim().split(/\s+/).map(Number);
    return vals.map((u, j) => ({ t: (b + (j + 0.5) / vals.length) * len, u }));
  });
};

const readings = [
  ...fromBlocks(dayBlocks),
  ...fromBlocks(dayBlocksCore),
  ...outliers.map(([t, u]) => ({ t, u })),
];

const averageLine = [
  { t: 0, u: averageU },
  { t: timeSpan, u: averageU },
];

const tickStyle = { fill: "#404040", fontSize: 24, fontFamily: "DejaVu Sans" };
const fmtY = (v: number) => (v < 0 ? "\u2013" + Math.abs(v) : String(v));
const fmtX = (v: number) => String(v);

const Dot = (p: any) => <circle cx={p.cx} cy={p.cy} r={3.9} fill="#4472C4" />;
const NoShape = () => <g />;

export default function App() {
  return (
    <div
      style={{
        position: "absolute",
        left: 0,
        top: 0,
        width: 1061,
        height: 605,
        background: "#fff",
      }}
    >
      <ScatterChart
        width={1061}
        height={605}
        margin={{ top: 24, right: 41, bottom: 0, left: 0 }}
      >
        <CartesianGrid stroke="#d9d9d9" strokeWidth={1.5} />
        <XAxis
          type="number"
          dataKey="t"
          domain={[0, timeSpan]}
          ticks={xTicks}
          interval={0}
          tickFormatter={fmtX}
          axisLine={false}
          tickLine={false}
          tickSize={0}
          tickMargin={20}
          tick={tickStyle}
          height={76}
        />
        <YAxis
          type="number"
          dataKey="u"
          domain={[-40, 40]}
          ticks={yTicks}
          interval={0}
          tickFormatter={fmtY}
          axisLine={false}
          tickLine={false}
          tickSize={0}
          tickMargin={25}
          tick={tickStyle}
          width={117}
        />
        <Scatter data={readings} shape={Dot} isAnimationActive={false} />
        <Scatter
          data={averageLine}
          shape={NoShape}
          line={{ stroke: "#ED7D31", strokeWidth: 16, strokeLinecap: "round" }}
          isAnimationActive={false}
        />
        <Scatter
          data={calloutPath}
          shape={NoShape}
          line={{ stroke: "#5B9BD5", strokeWidth: 2.2 }}
          isAnimationActive={false}
        />
        <Scatter
          data={calloutBar}
          shape={NoShape}
          line={{ stroke: "#5B9BD5", strokeWidth: 2.2 }}
          isAnimationActive={false}
        />
        <ReferenceArea
          x1={0}
          x2={timeSpan}
          y1={-40}
          y2={40}
          fill="none"
          fillOpacity={0}
          stroke="#000"
          strokeWidth={3}
          ifOverflow="visible"
        />
      </ScatterChart>
      <svg
        width={1061}
        height={605}
        style={{ position: "absolute", left: 0, top: 0, pointerEvents: "none" }}
      >
        <g fontFamily="DejaVu Sans" fontWeight="bold" fill="#000">
          <text x={568} y={598} fontSize={24.5} textAnchor="middle">
            Time, days
          </text>
          <text
            transform="translate(40,277) rotate(-90)"
            fontSize={25}
            textAnchor="middle"
          >
            U, W/m²/K
          </text>
          <text x={808} y={461} fontSize={31} textAnchor="middle">
            Average
          </text>
          <text x={808} y={502} fontSize={31} textAnchor="middle">
            value
          </text>
        </g>
      </svg>
    </div>
  );
}
